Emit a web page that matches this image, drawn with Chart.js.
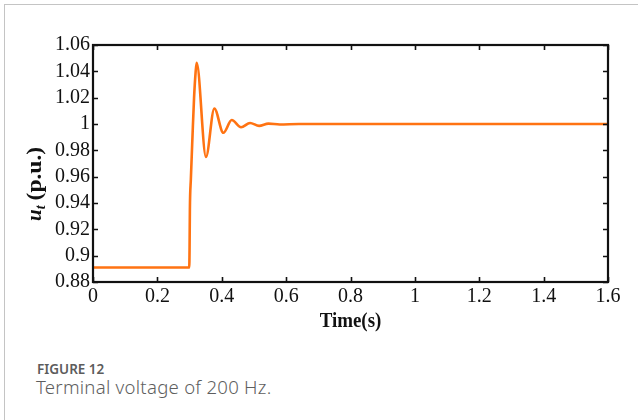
<!DOCTYPE html>
<html>
<head>
<meta charset="utf-8">
<script src="https://cdn.jsdelivr.net/npm/chart.js@4/dist/chart.umd.min.js"></script>
<style>
  html, body { margin: 0; padding: 0; background: #fff; }
  body { width: 638px; height: 420px; position: relative; overflow: hidden; }
  .card { position: absolute; left: 4px; top: 4px; width: 640px; height: 420px;
          border-top: 1px solid #c4c4c4; border-left: 1px solid #c4c4c4; }
  #chart { position: absolute; left: 0; top: 0; }
  .cap-label { position: absolute; left: 37px; top: 360px; font-family: "Noto Sans", sans-serif;
               font-size: 13.5px; font-weight: 600; color: #5c5c5c; letter-spacing: 0; }
  .cap-text { position: absolute; left: 36px; top: 374px; font-family: "Noto Sans", sans-serif;
              font-size: 18.6px; font-weight: 300; color: #5e5e5e; letter-spacing: 0.25px; }
</style>
</head>
<body>
<div class="card"></div>
<canvas id="chart" width="638" height="345"></canvas>
<div class="cap-label">FIGURE 12</div>
<div class="cap-text">Terminal voltage of 200 Hz.</div>
<script>
// Terminal voltage u_t (p.u.) over time after the step at t = 0.3 s
const timeS = [0, 0.299, 0.300, 0.301, 0.304, 0.309, 0.314, 0.319, 0.322,
               0.351, 0.377, 0.405, 0.431, 0.460, 0.488, 0.516, 0.545, 0.580, 0.640, 1.0, 1.6];
const voltPU = [0.891, 0.891, 0.905, 0.935, 0.958, 0.990, 1.020, 1.040, 1.0465,
                0.975, 1.0118, 0.9933, 1.0030, 0.9975, 1.0008, 0.9986, 1.0003, 0.9996, 1.0, 1.0, 1.0];

const yTicks = [0.88, 0.9, 0.92, 0.94, 0.96, 0.98, 1, 1.02, 1.04, 1.06];
const yTickLabels = ['0.88', '0.9', '0.92', '0.94', '0.96', '0.98', '1', '1.02', '1.04', '1.06'];
const xTicks = [0, 0.2, 0.4, 0.6, 0.8, 1, 1.2, 1.4, 1.6];
const xTickLabels = ['0', '0.2', '0.4', '0.6', '0.8', '1', '1.2', '1.4', '1.6'];

const xTitle = 'Time(s)';
const serif = '"Liberation Serif", "Times New Roman", serif';

// Black box frame with inward tick marks, plus the axis titles
const framePlugin = {
  id: 'frame',
  afterDraw(chart) {
    const { ctx, chartArea: a, scales } = chart;
    ctx.save();
    ctx.strokeStyle = '#111';
    ctx.lineWidth = 1.6;
    const tl = 5;
    ctx.beginPath();
    yTicks.forEach(v => {
      const y = Math.round(scales.y.getPixelForValue(v)) + 0.5;
      ctx.moveTo(a.left, y); ctx.lineTo(a.left + tl, y);
      ctx.moveTo(a.right, y); ctx.lineTo(a.right - tl, y);
    });
    xTicks.forEach(v => {
      const x = Math.round(scales.x.getPixelForValue(v)) + 0.5;
      ctx.moveTo(x, a.bottom); ctx.lineTo(x, a.bottom - tl);
      ctx.moveTo(x, a.top); ctx.lineTo(x, a.top + tl);
    });
    ctx.stroke();
    ctx.lineWidth = 2.2;
    ctx.strokeRect(a.left, a.top, a.right - a.left, a.bottom - a.top);

    // x-axis title
    ctx.fillStyle = '#111';
    ctx.textAlign = 'center';
    ctx.textBaseline = 'alphabetic';
    ctx.font = 'bold 21px ' + serif;
    ctx.save();
    ctx.translate((a.left + a.right) / 2, 327);
    ctx.scale(0.9, 1);
    ctx.fillText(xTitle, 0, 0);
    ctx.restore();

    // y-axis title: u with subscript t, then (p.u.)
    ctx.save();
    ctx.translate(41, 221);
    ctx.rotate(-Math.PI / 2);
    ctx.textAlign = 'left';
    let x = 0;
    ctx.font = 'italic bold 21px ' + serif;
    ctx.fillText('u', x, 0);
    x += ctx.measureText('u').width;
    ctx.font = 'italic bold 14px ' + serif;
    ctx.fillText('t', x, 4);
    x += ctx.measureText('t').width + 5;
    ctx.font = 'bold 21px ' + serif;
    ctx.scale(1.12, 1);
    ctx.fillText('(p.u.)', x / 1.12, 0);
    ctx.restore();
    ctx.restore();
  }
};

new Chart(document.getElementById('chart'), {
  type: 'line',
  data: {
    datasets: [{
      data: timeS.map((t, i) => ({ x: t, y: voltPU[i] })),
      borderColor: '#ff7312',
      borderWidth: 2.6,
      pointRadius: 0,
      fill: false,
      cubicInterpolationMode: 'monotone'
    }]
  },
  options: {
    responsive: false,
    devicePixelRatio: 1,
    animation: false,
    layout: { padding: { top: 45, right: 30, left: 0, bottom: 0 } },
    plugins: { legend: { display: false }, tooltip: { enabled: false } },
    scales: {
      x: {
        type: 'linear', min: 0, max: 1.6,
        afterBuildTicks: s => { s.ticks = xTicks.map(v => ({ value: v })); },
        afterFit: s => { s.height = 345 - 282; },
        grid: { display: false, drawTicks: false },
        border: { display: false },
        ticks: {
          padding: 3,
          color: '#111',
          maxRotation: 0,
          autoSkip: false,
          font: { family: serif, size: 20 },
          callback: (v, i) => xTickLabels[i]
        }
      },
      y: {
        type: 'linear', min: 0.88, max: 1.06,
        afterBuildTicks: s => { s.ticks = yTicks.map(v => ({ value: v })); },
        afterFit: s => { s.width = 93; },
        grid: { display: false, drawTicks: false },
        border: { display: false },
        ticks: {
          padding: 3,
          color: '#111',
          autoSkip: false,
          font: { family: serif, size: 20 },
          callback: (v, i) => yTickLabels[i]
        }
      }
    }
  },
  plugins: [framePlugin]
});
</script>
</body>
</html>
